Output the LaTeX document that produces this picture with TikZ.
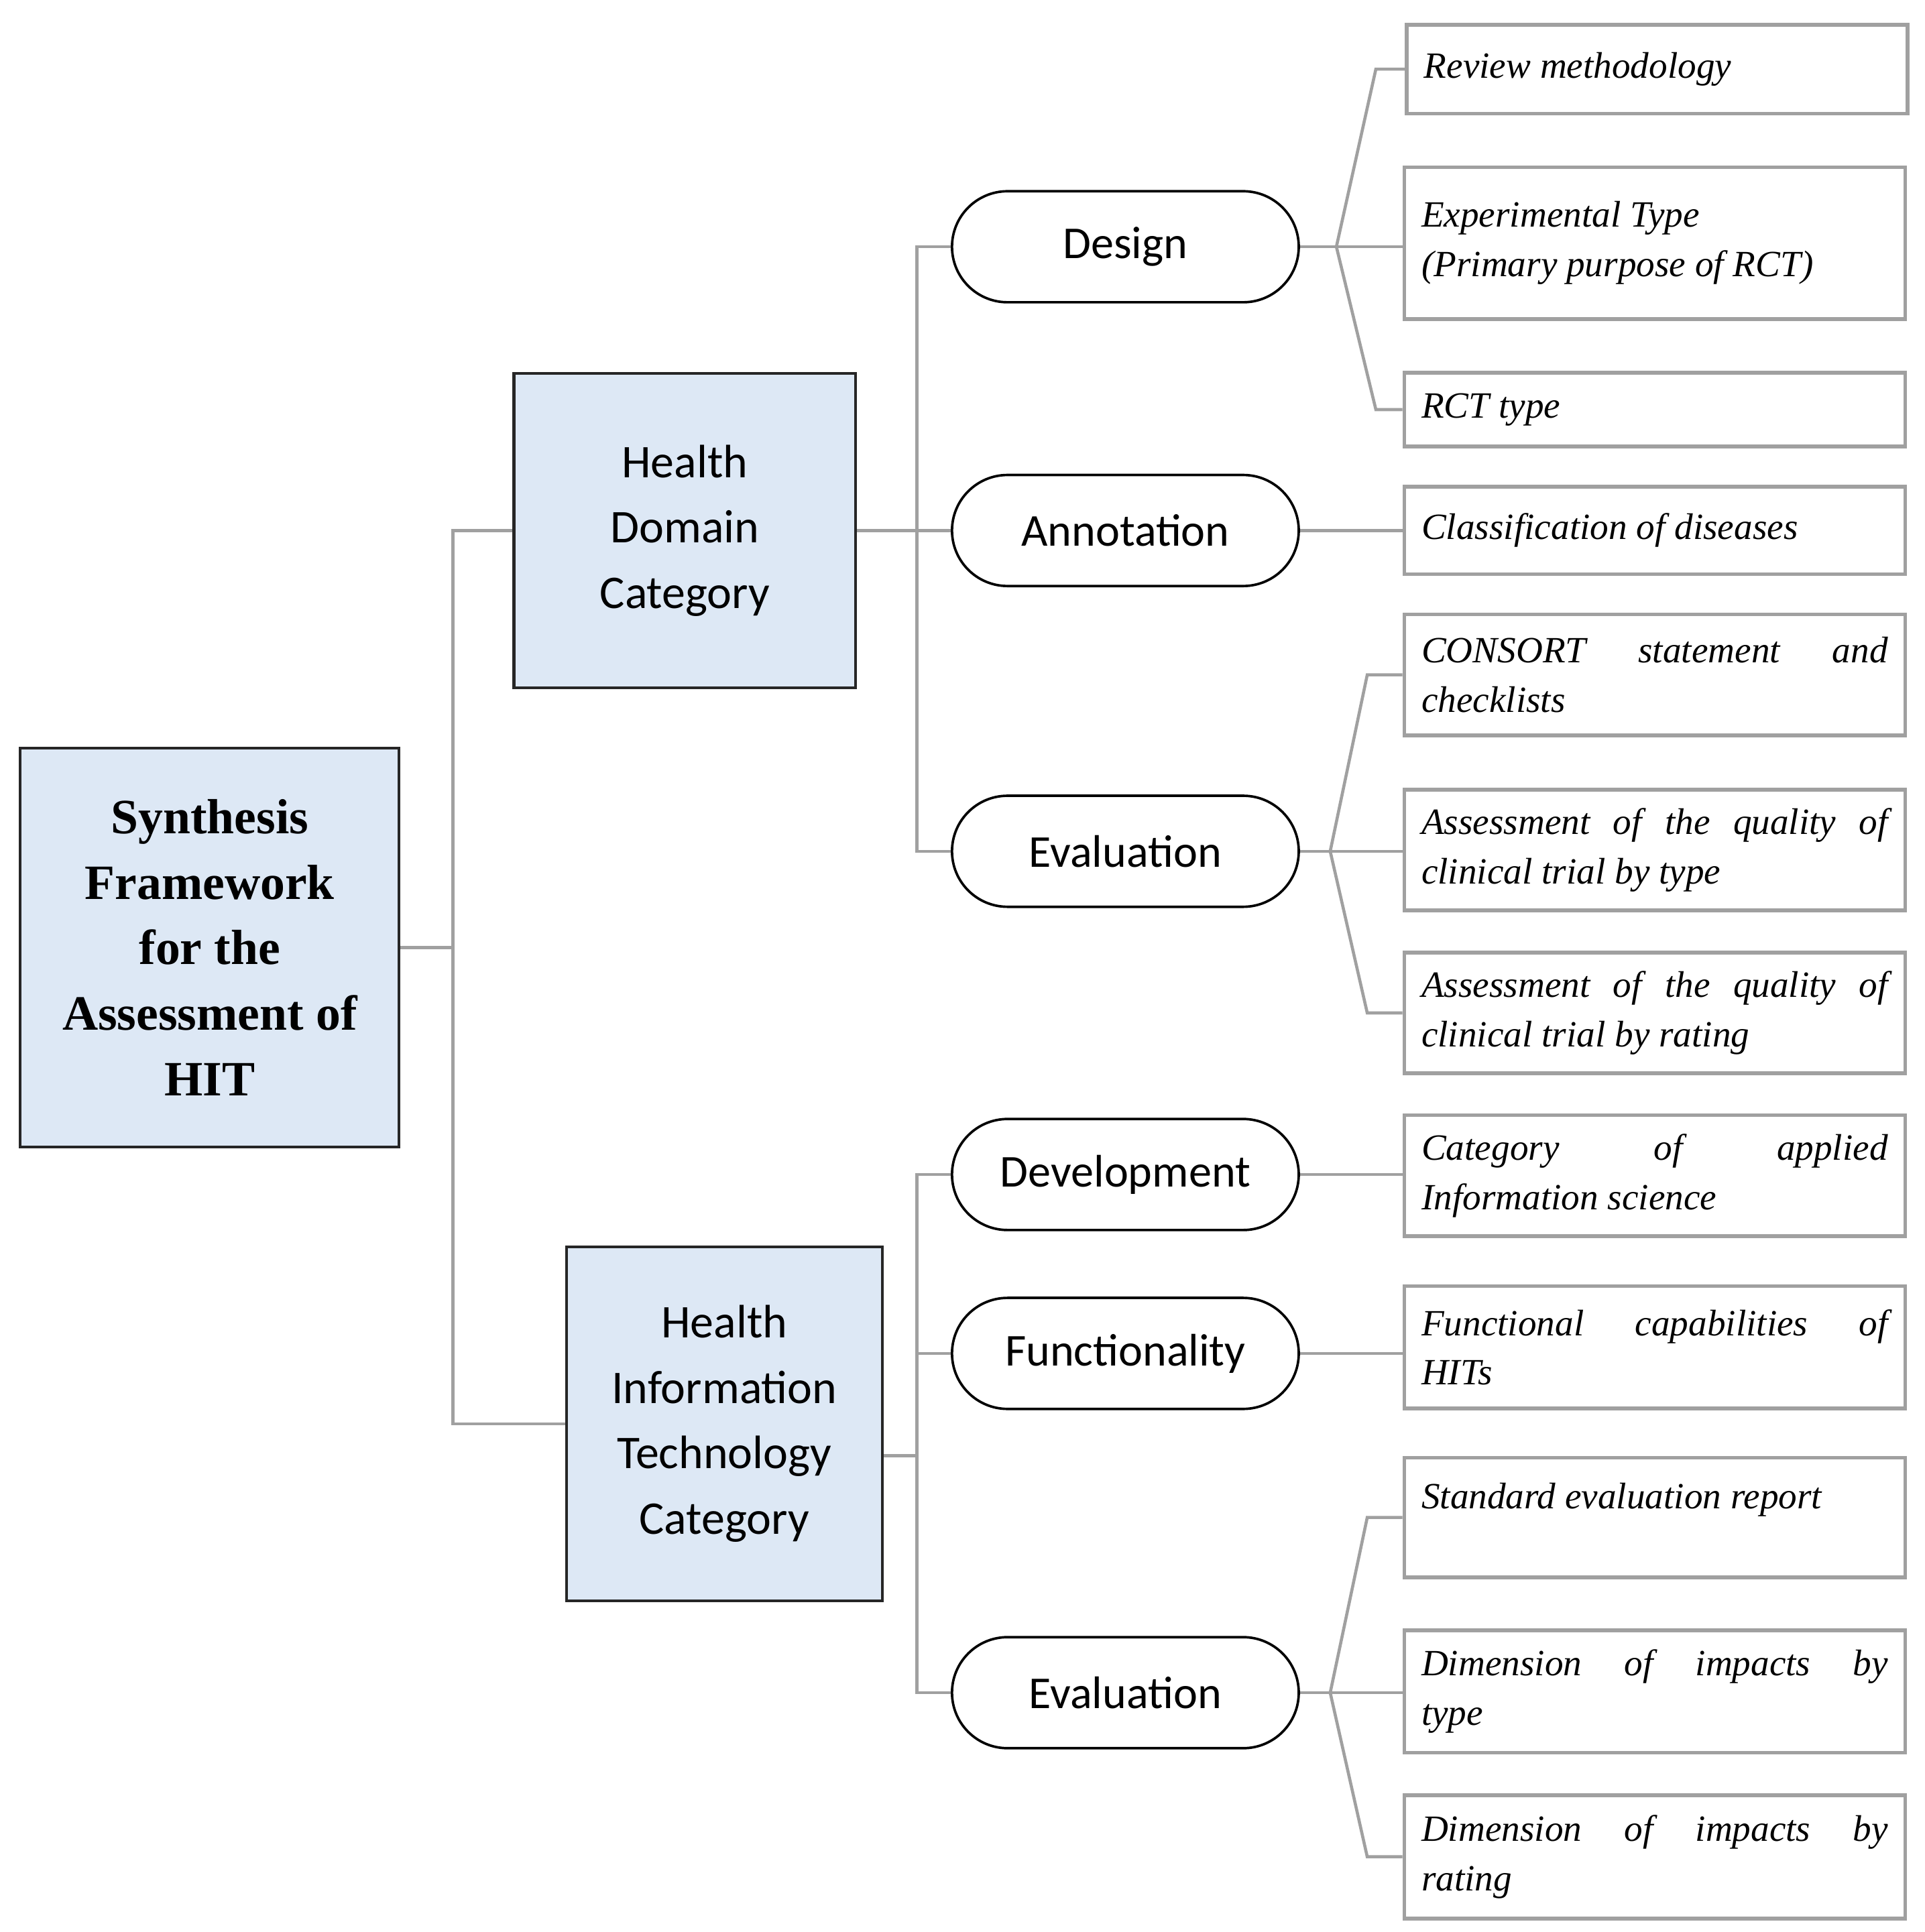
\documentclass[tikz,border=0pt]{standalone}
\usepackage{fontspec}
\setmainfont{Liberation Serif}
\newfontfamily\calib{Carlito}
\newcommand\nohyphx{\hyphenpenalty=10000\relax}
\definecolor{boxblue}{RGB}{221,232,245}
\definecolor{lgray}{RGB}{160,160,160}
\begin{document}
\begin{tikzpicture}[x=1pt,y=-1pt,
  catbox/.style={draw=black!85,line width=2.2pt,fill=boxblue,align=center,inner sep=0pt},
  pill/.style={draw=black,line width=2pt,rounded corners=45pt,minimum width=281pt,minimum height=90pt,inner sep=0pt,font=\calib\fontsize{37}{40}\selectfont},
  leaf/.style={draw=lgray,line width=3pt,minimum width=406pt,inner sep=0pt,text width=378pt,align=justify,font=\itshape\fontsize{30}{40}\selectfont\nohyphx},
  conn/.style={draw=lgray,line width=2.5pt}]
\useasboundingbox (0,0) rectangle (1560,1566);
\node[catbox,minimum width=307pt,minimum height=323pt,font=\bfseries\fontsize{40}{53}\selectfont] (root) at (170,768) {Synthesis\\Framework\\for the\\Assessment of\\HIT};
\node[catbox,minimum width=277pt,minimum height=255pt,font=\calib\fontsize{38}{53}\selectfont] (hdc) at (555,430) {Health\\Domain\\Category};
\node[catbox,minimum width=256pt,minimum height=287pt,font=\calib\fontsize{38}{53}\selectfont] (hit) at (587,1154) {Health\\Information\\Technology\\Category};
\node[pill] (p1) at (912,200) {Design};
\node[pill] (p2) at (912,430) {Annotation};
\node[pill] (p3) at (912,690) {Evaluation};
\node[pill] (p4) at (912,952) {Development};
\node[pill] (p5) at (912,1097) {Functionality};
\node[pill] (p6) at (912,1372) {Evaluation};
\node[leaf,minimum height=72pt] (l1) at (1343,56) {Review methodology};
\node[leaf,minimum height=123pt] (l2) at (1341,197) {Experimental Type\\(Primary purpose of RCT)};
\node[leaf,minimum height=60pt] (l3) at (1341,332) {RCT type};
\node[leaf,minimum height=71pt] (l4) at (1341,430) {Classification of diseases};
\node[leaf,minimum height=98pt] (l5) at (1341,547) {CONSORT statement and\linebreak checklists};
\node[leaf,minimum height=98pt] (l6) at (1341,689) {Assessment of the quality of\linebreak clinical trial by type};
\node[leaf,minimum height=98pt] (l7) at (1341,821) {Assessment of the quality of\linebreak clinical trial by rating};
\node[leaf,minimum height=98pt] (l8) at (1341,953) {Category of applied\linebreak Information science};
\node[leaf,minimum height=99pt] (l9) at (1341,1092) {Functional capabilities of\linebreak HITs};
\node[leaf,minimum height=97pt] (l10) at (1341,1230) {Standard evaluation report\strut\vspace{30pt}};
\node[leaf,minimum height=99pt] (l11) at (1341,1371) {Dimension of impacts by\linebreak type};
\node[leaf,minimum height=100pt] (l12) at (1341,1505) {Dimension of impacts by\linebreak rating};
% root connectors
\draw[conn] (root.east) -- (367,768);
\draw[conn] (hdc.west) -| (367,1154) -- (hit.west);
\draw[conn] (hdc.east) -- (743,430);
\draw[conn] (p1.west) -| (743,690) -- (p3.west);
\draw[conn] (p2.west) -- (743,430);
\draw[conn] ([yshift=-26pt]hit.east) -- (743,1180);
\draw[conn] (p4.west) -| (743,1372) -- (p6.west);
\draw[conn] (p5.west) -- (743,1097);
% leaves
\draw[conn] (p1.east) -- (p1.east -| l2.west);
\draw[conn] (1083,200) -- (1115,56) -- (l1.west);
\draw[conn] (1083,200) -- (1115,332) -- (l3.west);
\draw[conn] (p2.east) -- (p2.east -| l4.west);
\draw[conn] (p3.east) -- (p3.east -| l6.west);
\draw[conn] (1078,690) -- (1108,547) -- (l5.west);
\draw[conn] (1078,690) -- (1108,821) -- (l7.west);
\draw[conn] (p4.east) -- (p4.east -| l8.west);
\draw[conn] (p5.east) -- (p5.east -| l9.west);
\draw[conn] (p6.east) -- (p6.east -| l11.west);
\draw[conn] (1078,1372) -- (1108,1230) -- (l10.west);
\draw[conn] (1078,1372) -- (1108,1505) -- (l12.west);
\end{tikzpicture}
\end{document}
